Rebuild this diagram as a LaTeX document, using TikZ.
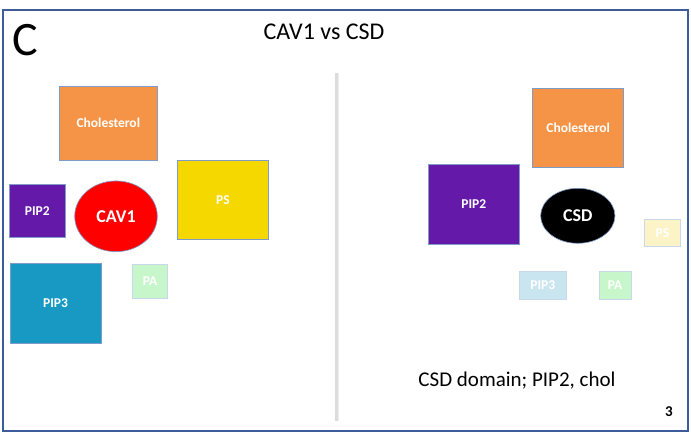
\documentclass[tikz,border=0pt]{standalone}
\usepackage{fontspec}
\setmainfont{Carlito}
\usetikzlibrary{shapes.geometric}
\definecolor{frameblue}{HTML}{3D5C9C}
\definecolor{edgeblue}{HTML}{7F9CC8}
\definecolor{edgepale}{HTML}{C8D8EA}
\definecolor{cholorange}{HTML}{F59446}
\definecolor{psyellow}{HTML}{F4D800}
\definecolor{pipviolet}{HTML}{6419A9}
\definecolor{pipteal}{HTML}{1799C3}
\definecolor{pagreen}{HTML}{C7F6CA}
\definecolor{psyellowpale}{HTML}{FCF4C7}
\definecolor{pipbluepale}{HTML}{C9E5F0}
\definecolor{dividergray}{HTML}{DCDCDC}
\begin{document}
\begin{tikzpicture}[x=1pt,y=-1pt,
  lipid/.style={draw=edgeblue, line width=0.6pt, text=white, inner sep=0pt,
    font=\fontsize{13.5}{15}\selectfont\bfseries},
  palelipid/.style={lipid, draw=edgepale},
  blob/.style={ellipse, draw=edgeblue, line width=0.6pt, text=white, inner sep=0pt,
    font=\fontsize{18}{20}\selectfont\bfseries}]
\useasboundingbox (0,0) rectangle (691,438);
\fill[white] (0,0) rectangle (691,438);
% slide frame
\draw[frameblue, line width=2pt] (3,10) rectangle (688,431);
% panel letter, title, slide number
\node[anchor=base west, inner sep=0pt, font=\fontsize{48}{52}\selectfont] (letter) at (12,56) {C};
\node[anchor=base, inner sep=0pt, font=\fontsize{24}{28}\selectfont] (title) at (324,40) {CAV1 vs CSD};
\node[anchor=base, inner sep=0pt, font=\fontsize{15}{17}\selectfont\bfseries] (pagenum) at (669,417) {3};
% divider between the two panels
\coordinate (divtop) at (336,73);
\coordinate (divbot) at (336,421);
\draw[dividergray, line width=3pt] (divtop) -- (divbot);
\draw[black!7, line width=1pt] ([xshift=2pt]divtop) -- ([xshift=2pt]divbot);

% left panel: CAV1
\node[lipid, fill=cholorange, minimum width=98pt, minimum height=74pt] (cholL) at (108.3,123.2) {Cholesterol};
\node[lipid, fill=psyellow, minimum width=91.4pt, minimum height=78.6pt] (psL) at (223,200) {PS};
\node[lipid, fill=pipviolet, minimum width=56pt, minimum height=52.6pt] (pip2L) at (37.3,211) {PIP2};
\node[blob, fill=red, minimum width=82.6pt, minimum height=70.7pt] (cav1) at (116,216.3) {CAV1};
\node[lipid, fill=pipteal, minimum width=91pt, minimum height=80pt] (pip3L) at (55.5,303.3) {PIP3};
\node[palelipid, fill=pagreen, minimum width=35.4pt, minimum height=34.3pt] (paL) at (150,281) {PA};

% right panel: CSD
\node[lipid, fill=cholorange, minimum width=91pt, minimum height=78.6pt] (cholR) at (578.2,128) {Cholesterol};
\node[lipid, fill=pipviolet, minimum width=90.3pt, minimum height=79.3pt] (pip2R) at (473.8,204.3) {PIP2};
\node[blob, fill=black, minimum width=74.3pt, minimum height=55pt] (csd) at (577.8,215.8) {CSD};
\node[palelipid, fill=psyellowpale, minimum width=36.4pt, minimum height=26.7pt] (psR) at (662.5,232.7) {PS};
\node[palelipid, fill=pipbluepale, minimum width=47.7pt, minimum height=28.3pt] (pip3R) at (542.8,285.2) {PIP3};
\node[palelipid, fill=pagreen, minimum width=32pt, minimum height=28.3pt] (paR) at (615,285.2) {PA};

\node[anchor=base, inner sep=0pt, font=\fontsize{21}{24}\selectfont] (note) at (517,386) {CSD domain; PIP2, chol};
\end{tikzpicture}
\end{document}
